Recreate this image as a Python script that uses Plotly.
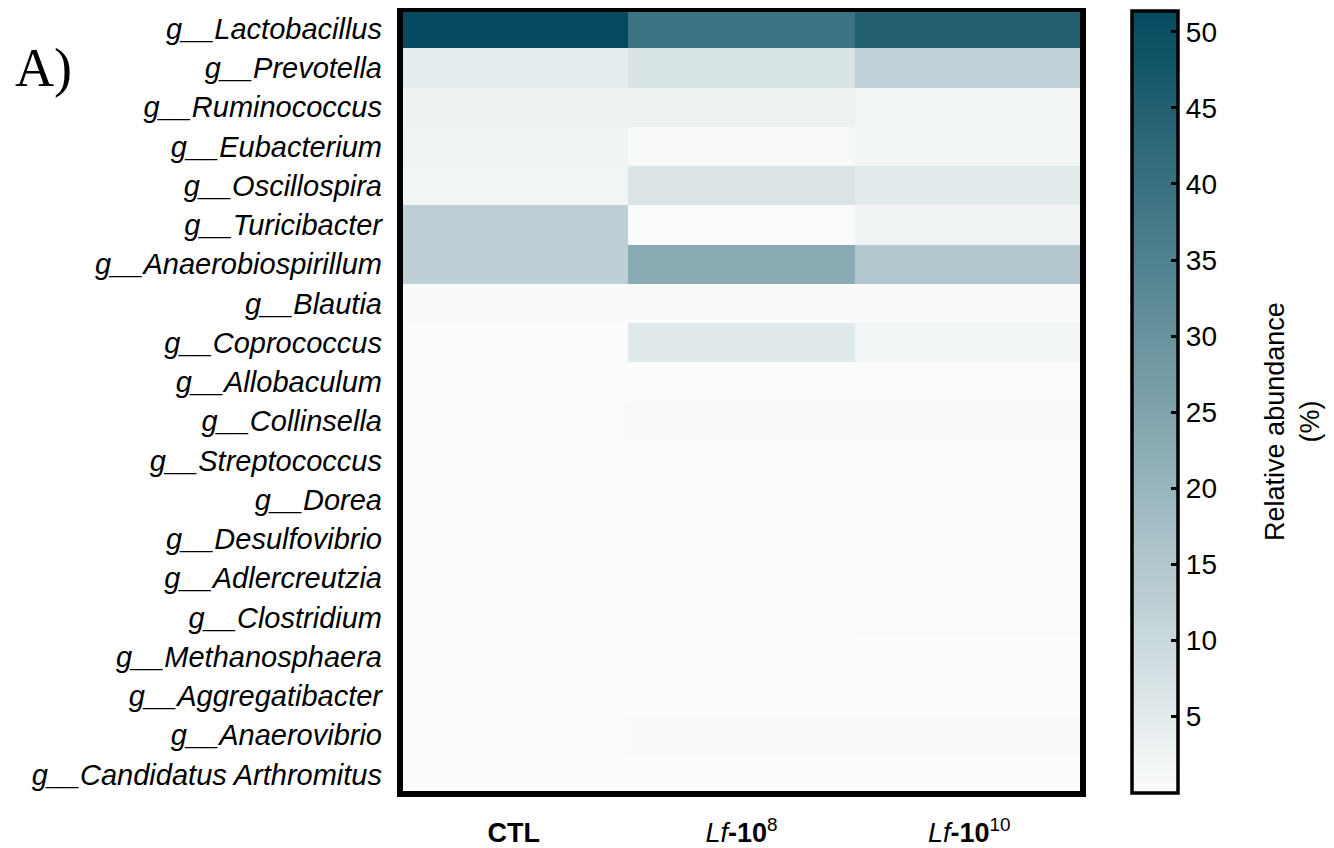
import plotly.graph_objects as go

genera = ["Lactobacillus", "Prevotella", "Ruminococcus", "Eubacterium", "Oscillospira",
          "Turicibacter", "Anaerobiospirillum", "Blautia", "Coprococcus", "Allobaculum",
          "Collinsella", "Streptococcus", "Dorea", "Desulfovibrio", "Adlercreutzia",
          "Clostridium", "Methanosphaera", "Aggregatibacter", "Anaerovibrio",
          "Candidatus Arthromitus"]
groups = ["CTL", "Lf-10^8", "Lf-10^10"]
group_labels = ["<b>CTL</b>", "<i>Lf</i><b>-10</b><sup>8</sup>", "<i>Lf</i><b>-10</b><sup>10</sup>"]

ctl   = [51.0, 4.4, 2.9, 2.5, 1.9, 12.5, 12.5, 0.5, 0.2, 0.3, 0.2, 0.3, 0.15, 0.1, 0.1, 0.1, 0.1, 0.05, 0.05, 0.02]
lf8   = [39.0, 7.1, 3.1, 0.6, 6.5, 0.2, 23.0, 0.5, 5.6, 0.0, 0.6, 0.3, 0.2, 0.1, 0.05, 0.05, 0.05, 0.05, 0.4, 0.02]
lf10  = [44.6, 12.1, 2.1, 1.9, 5.0, 2.5, 14.6, 0.5, 1.7, 0.3, 0.5, 0.3, 0.2, 0.15, 0.1, 0.2, 0.05, 0.05, 0.4, 0.02]

cbar_ticks = [5, 10, 15, 20, 25, 30, 35, 40, 45, 50]

z = [[a, b, c] for a, b, c in zip(ctl, lf8, lf10)]
ylabels = ["<i>g__" + g + "</i>" for g in genera]

FONT = "Liberation Sans, Arial, Helvetica"

fig = go.Figure(go.Heatmap(
    z=z, x=groups, y=ylabels,
    zmin=0, zmax=51.4,
    colorscale=[[0, "rgb(251,252,252)"], [0.5, "rgb(124,161,171)"], [1, "rgb(3,74,94)"]],
    xgap=0, ygap=0,
    colorbar=dict(
        x=1.0721, xanchor="left", xref="paper",
        y=0.5, yanchor="middle", yref="paper",
        lenmode="fraction", len=0.996,
        thickness=46, thicknessmode="pixels",
        xpad=0, ypad=0,
        outlinewidth=3.5, outlinecolor="black",
        tickvals=cbar_ticks, ticks="inside", ticklen=8, tickwidth=3, tickcolor="black",
        tickfont=dict(family=FONT, size=28, color="black"),
    ),
))

fig.update_xaxes(tickvals=groups, ticktext=group_labels, showgrid=False, zeroline=False,
                 ticks="", ticklabelstandoff=20,
                 tickfont=dict(family=FONT, size=27, color="black"))
fig.update_yaxes(autorange="reversed", showgrid=False, zeroline=False, ticks="",
                 ticklabelstandoff=17,
                 tickfont=dict(family=FONT, size=29, color="black"))

fig.add_shape(type="rect", xref="paper", yref="paper", x0=0, y0=0, x1=1, y1=1,
              line=dict(color="black", width=6), fillcolor="rgba(0,0,0,0)")

fig.add_annotation(text="Relative abundance<br>(%)", xref="paper", yref="paper",
                   x=1.3075, y=0.474, xanchor="center", yanchor="middle",
                   textangle=-90, showarrow=False,
                   font=dict(family=FONT, size=27, color="black"))

fig.add_annotation(text="A)", xref="paper", yref="paper", x=-0.567, y=0.925,
                   xanchor="left", yanchor="middle", showarrow=False,
                   font=dict(family="Liberation Serif, Times New Roman", size=54, color="black"))

fig.update_layout(
    width=1318, height=840,
    margin=dict(l=392, r=243, t=1, b=54, pad=0, autoexpand=False),
    paper_bgcolor="white", plot_bgcolor="white",
)

fig.write_html("out.html")
